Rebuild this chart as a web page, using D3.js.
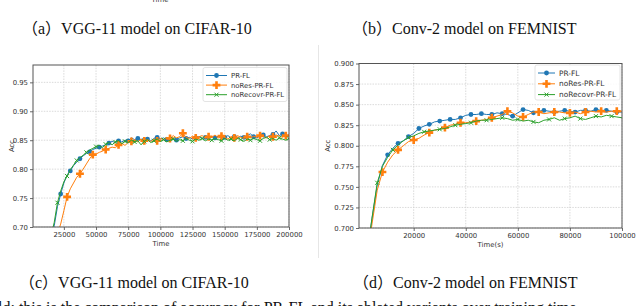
<!DOCTYPE html>
<html>
<head>
<meta charset="utf-8">
<script src="https://cdn.jsdelivr.net/npm/d3@7"></script>
<style>
  body { margin: 0; background: #fff; }
  svg { display: block; }
  .tick text { font-family: "DejaVu Sans", sans-serif; font-size: 6.9px; fill: #333; }
  .cap { font-family: "Liberation Serif", "Noto Sans CJK SC", serif; font-size: 16px; fill: #111; }
  .lab { font-family: "DejaVu Sans", sans-serif; font-size: 6.9px; fill: #333; }
</style>
</head>
<body>
<svg id="fig" width="640" height="306"></svg>
<script>
// ---- chart (a)/(c): VGG-11 on CIFAR-10 ----
var timeA = [15000, 17500, 20000, 22500, 25000, 27500, 30000, 32500, 35000, 37500,
  40000, 42500, 45000, 47500, 50000, 52500, 55000, 57500, 60000, 62500,
  65000, 67500, 70000, 72500, 75000, 77500, 80000, 82500, 85000, 87500,
  90000, 92500, 95000, 97500, 100000, 102500, 105000, 107500, 110000, 112500,
  115000, 117500, 120000, 122500, 125000, 127500, 130000, 132500, 135000, 137500,
  140000, 142500, 145000, 147500, 150000, 152500, 155000, 157500, 160000, 162500,
  165000, 167500, 170000, 172500, 175000, 177500, 180000, 182500, 185000, 187500,
  190000, 192500, 195000, 197500, 200000];
var prflA = [0.680, 0.702, 0.735, 0.757, 0.776, 0.790, 0.797, 0.806, 0.812, 0.818,
  0.823, 0.827, 0.830, 0.834, 0.836, 0.838, 0.840, 0.842, 0.845, 0.848,
  0.846, 0.849, 0.847, 0.850, 0.849, 0.854, 0.851, 0.853, 0.851, 0.854,
  0.852, 0.849, 0.853, 0.855, 0.852, 0.854, 0.851, 0.855, 0.853, 0.850,
  0.854, 0.856, 0.853, 0.855, 0.852, 0.854, 0.856, 0.853, 0.855, 0.852,
  0.856, 0.854, 0.857, 0.853, 0.855, 0.858, 0.854, 0.856, 0.853, 0.857,
  0.855, 0.858, 0.861, 0.856, 0.854, 0.857, 0.859, 0.856, 0.858, 0.860,
  0.866, 0.858, 0.861, 0.857, 0.859];
var noResA = [0.640, 0.665, 0.688, 0.705, 0.728, 0.752, 0.766, 0.776, 0.786, 0.792,
  0.800, 0.809, 0.818, 0.825, 0.826, 0.829, 0.831, 0.834, 0.836, 0.838,
  0.837, 0.842, 0.845, 0.841, 0.846, 0.848, 0.851, 0.847, 0.852, 0.849,
  0.851, 0.848, 0.852, 0.849, 0.853, 0.851, 0.855, 0.853, 0.858, 0.854,
  0.856, 0.862, 0.855, 0.853, 0.857, 0.854, 0.856, 0.858, 0.853, 0.856,
  0.855, 0.859, 0.854, 0.857, 0.855, 0.852, 0.856, 0.854, 0.858, 0.855,
  0.853, 0.856, 0.854, 0.857, 0.855, 0.858, 0.856, 0.854, 0.858, 0.856,
  0.859, 0.857, 0.855, 0.858, 0.857];
var noRecA = [0.685, 0.708, 0.742, 0.762, 0.778, 0.788, 0.799, 0.807, 0.815, 0.820,
  0.824, 0.829, 0.833, 0.836, 0.839, 0.841, 0.837, 0.843, 0.846, 0.842,
  0.847, 0.849, 0.844, 0.848, 0.846, 0.850, 0.847, 0.849, 0.842, 0.848,
  0.851, 0.846, 0.849, 0.852, 0.848, 0.851, 0.847, 0.850, 0.852, 0.848,
  0.851, 0.849, 0.853, 0.850, 0.848, 0.852, 0.850, 0.853, 0.849, 0.852,
  0.850, 0.853, 0.851, 0.849, 0.853, 0.850, 0.852, 0.849, 0.853, 0.851,
  0.848, 0.852, 0.850, 0.853, 0.851, 0.849, 0.853, 0.855, 0.851, 0.853,
  0.850, 0.854, 0.852, 0.850, 0.853];
var xTicksA = [25000, 50000, 75000, 100000, 125000, 150000, 175000, 200000];
var yTicksA = [0.70, 0.75, 0.80, 0.85, 0.90, 0.95];

// ---- chart (b)/(d): Conv-2 on FEMNIST ----
var timeB = [2000, 4000, 6000, 8000, 10000, 12000, 14000, 16000, 18000, 20000,
  22000, 24000, 26000, 28000, 30000, 32000, 34000, 36000, 38000, 40000,
  42000, 44000, 46000, 48000, 50000, 52000, 54000, 56000, 58000, 60000,
  62000, 64000, 66000, 68000, 70000, 72000, 74000, 76000, 78000, 80000,
  82000, 84000, 86000, 88000, 90000, 92000, 94000, 96000, 98000, 100000];
var prflB = [0.665, 0.712, 0.752, 0.776, 0.789, 0.797, 0.803, 0.806, 0.811, 0.815,
  0.821, 0.824, 0.826, 0.829, 0.830, 0.831, 0.832, 0.832, 0.834, 0.837,
  0.838, 0.838, 0.839, 0.838, 0.838, 0.840, 0.839, 0.838, 0.836, 0.840,
  0.844, 0.843, 0.840, 0.842, 0.843, 0.842, 0.841, 0.842, 0.843, 0.842,
  0.841, 0.843, 0.843, 0.842, 0.844, 0.843, 0.843, 0.842, 0.841, 0.841];
var noResB = [0.660, 0.705, 0.746, 0.768, 0.780, 0.789, 0.795, 0.800, 0.805, 0.807,
  0.809, 0.813, 0.816, 0.819, 0.820, 0.822, 0.825, 0.826, 0.828, 0.828,
  0.829, 0.830, 0.831, 0.832, 0.834, 0.836, 0.838, 0.842, 0.840, 0.836,
  0.835, 0.838, 0.841, 0.841, 0.839, 0.840, 0.841, 0.841, 0.840, 0.840,
  0.841, 0.839, 0.841, 0.842, 0.841, 0.842, 0.841, 0.842, 0.842, 0.842];
var noRecB = [0.668, 0.712, 0.755, 0.775, 0.786, 0.795, 0.801, 0.806, 0.810, 0.812,
  0.815, 0.817, 0.818, 0.819, 0.820, 0.821, 0.823, 0.825, 0.826, 0.827,
  0.828, 0.830, 0.831, 0.831, 0.832, 0.833, 0.834, 0.833, 0.831, 0.832,
  0.830, 0.831, 0.829, 0.828, 0.831, 0.832, 0.834, 0.831, 0.833, 0.834,
  0.836, 0.833, 0.832, 0.834, 0.836, 0.835, 0.837, 0.836, 0.835, 0.834];
var xTicksB = [20000, 40000, 60000, 80000, 100000];
var yTicksB = [0.700, 0.725, 0.750, 0.775, 0.800, 0.825, 0.850, 0.875, 0.900];

var names = ["PR-FL", "noRes-PR-FL", "noRecovr-PR-FL"];
var colors = ["#1f77b4", "#ff7f0e", "#2ca02c"];
var shapes = ["circle", "plus", "x"];

var svg = d3.select("#fig");

function marker(g, shape, color) {
  if (shape == "circle") {
    g.append("circle").attr("r", 2.4).attr("fill", color);
  } else if (shape == "plus") {
    g.append("path").attr("d", d3.symbol(d3.symbolCross, 34)()).attr("fill", color);
  } else {
    g.append("path").attr("d", "M-2,-2L2,2M-2,2L2,-2")
      .attr("stroke", color).attr("stroke-width", 1).attr("fill", "none");
  }
}

function drawChart(opt) {
  var x = d3.scaleLinear().domain(opt.xDomain).range([opt.left, opt.right]);
  var y = d3.scaleLinear().domain(opt.yDomain).range([opt.bottom, opt.top]);
  var g = svg.append("g");

  // grid
  g.append("g").selectAll("line").data(opt.xTicks).join("line")
    .attr("x1", d => x(d)).attr("x2", d => x(d))
    .attr("y1", opt.top).attr("y2", opt.bottom)
    .attr("stroke", "#d0d0d0").attr("stroke-width", 0.8).attr("stroke-dasharray", "1.5,1.2");
  g.append("g").selectAll("line").data(opt.yTicks).join("line")
    .attr("x1", opt.left).attr("x2", opt.right)
    .attr("y1", d => y(d)).attr("y2", d => y(d))
    .attr("stroke", "#d0d0d0").attr("stroke-width", 0.8).attr("stroke-dasharray", "1.5,1.2");

  // series
  var clipId = "clip" + opt.id;
  svg.append("clipPath").attr("id", clipId).append("rect")
    .attr("x", opt.left).attr("y", opt.top)
    .attr("width", opt.right - opt.left).attr("height", opt.bottom - opt.top);
  var plot = g.append("g").attr("clip-path", "url(#" + clipId + ")");
  var line = d3.line().x(d => x(d[0])).y(d => y(d[1]));

  opt.series.forEach((vals, i) => {
    var pts = opt.time.map((t, j) => [t, vals[j]]);
    plot.append("path").datum(pts).attr("d", line)
      .attr("fill", "none").attr("stroke", colors[i]).attr("stroke-width", 1);
    pts.forEach((p, j) => {
      if (j < opt.start[i] || (j - opt.start[i]) % opt.every[i] != 0) return;
      var m = plot.append("g").attr("transform", "translate(" + x(p[0]) + "," + y(p[1]) + ")");
      marker(m, shapes[i], colors[i]);
    });
  });

  // axes
  var xa = g.append("g").attr("transform", "translate(0," + opt.bottom + ")")
    .call(d3.axisBottom(x).tickValues(opt.xTicks).tickFormat(d3.format("d")).tickSize(3).tickPadding(2));
  var ya = g.append("g").attr("transform", "translate(" + opt.left + ",0)")
    .call(d3.axisLeft(y).tickValues(opt.yTicks).tickFormat(d3.format(opt.yFmt)).tickSize(3).tickPadding(2));
  [xa, ya].forEach(a => {
    a.select(".domain").remove();
    a.selectAll(".tick line").attr("stroke", "#444").attr("stroke-width", 0.8);
  });
  g.append("rect").attr("x", opt.left).attr("y", opt.top)
    .attr("width", opt.right - opt.left).attr("height", opt.bottom - opt.top)
    .attr("fill", "none").attr("stroke", "#555").attr("stroke-width", 1);

  // axis labels
  g.append("text").attr("class", "lab").attr("text-anchor", "middle")
    .attr("x", (opt.left + opt.right) / 2).attr("y", opt.bottom + 19).text(opt.xLabel);
  g.append("text").attr("class", "lab").attr("text-anchor", "middle")
    .attr("transform", "translate(" + opt.accX + "," + (opt.top + opt.bottom) / 2 + ") rotate(-90)")
    .text("Acc");

  // legend
  var lg = g.append("g").attr("transform", "translate(" + opt.legX + "," + opt.legY + ")");
  lg.append("rect").attr("width", opt.legW).attr("height", opt.legH).attr("rx", 2)
    .attr("fill", "#fff").attr("fill-opacity", 0.85).attr("stroke", "#ddd").attr("stroke-width", 0.8);
  names.forEach((n, i) => {
    var row = lg.append("g").attr("transform", "translate(3," + (8 + i * opt.legStep) + ")");
    row.append("line").attr("x1", 0).attr("x2", opt.legLine).attr("stroke", colors[i]).attr("stroke-width", 1);
    var m = row.append("g").attr("transform", "translate(" + opt.legLine / 2 + ",0)");
    marker(m, shapes[i], colors[i]);
    row.append("text").attr("class", "lab").attr("x", opt.legLine + 4).attr("y", 2.5)
      .style("font-size", opt.legFont + "px").text(n);
  });
}

drawChart({
  id: "A", time: timeA, series: [prflA, noResA, noRecA],
  xDomain: [1000, 200000], yDomain: [0.70, 0.98],
  left: 33, right: 289, top: 65, bottom: 227,
  xTicks: xTicksA, yTicks: yTicksA, yFmt: ".2f",
  every: [3, 4, 3], start: [3, 5, 2],
  xLabel: "Time", accX: 14,
  legX: 203, legY: 67.5, legW: 84, legH: 34, legStep: 9.6, legLine: 21, legFont: 6.9
});

drawChart({
  id: "B", time: timeB, series: [prflB, noResB, noRecB],
  xDomain: [-1000, 100000], yDomain: [0.70, 0.90],
  left: 359, right: 622, top: 63.5, bottom: 228,
  xTicks: xTicksB, yTicks: yTicksB, yFmt: ".3f",
  every: [2, 3, 3], start: [4, 3, 2],
  xLabel: "Time(s)", accX: 330,
  legX: 535, legY: 65, legW: 85, legH: 35, legStep: 10.8, legLine: 17, legFont: 7.4
});

// faint border of the right image and cropped text from the page
svg.append("line").attr("x1", 318.5).attr("x2", 318.5).attr("y1", 45).attr("y2", 258)
  .attr("stroke", "#e6e6e6").attr("stroke-width", 1);
svg.append("text").attr("class", "lab").attr("text-anchor", "middle")
  .attr("x", 160).attr("y", 1.5).attr("fill", "#999").text("Time");

// sub-captions
svg.append("text").attr("class", "cap").attr("x", 22).attr("y", 34).text("（a）VGG-11 model on CIFAR-10");
svg.append("text").attr("class", "cap").attr("x", 352).attr("y", 34).text("（b）Conv-2 model on FEMNIST");
svg.append("text").attr("class", "cap").attr("x", 19).attr("y", 288).text("（c）VGG-11 model on CIFAR-10");
svg.append("text").attr("class", "cap").attr("x", 353).attr("y", 288).text("（d）Conv-2 model on FEMNIST");
svg.append("text").attr("class", "cap").attr("x", -2).attr("y", 313)
  .text("ld: this is the comparison of accuracy for PR-FL and its ablated variants over training time.");
</script>
</body>
</html>
